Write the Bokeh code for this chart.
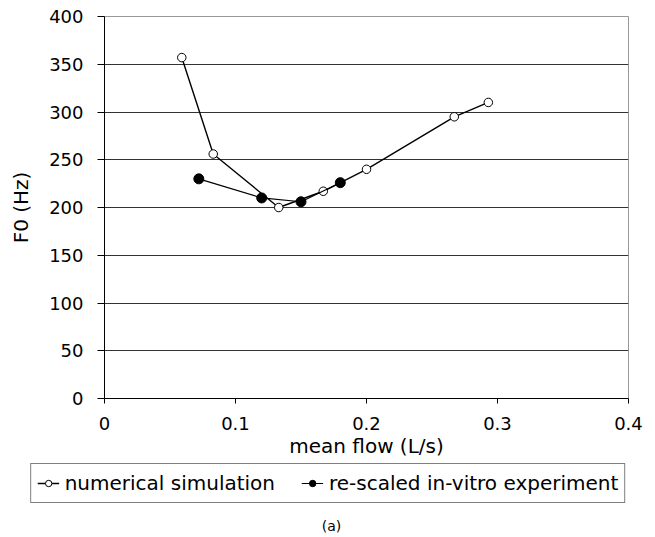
from bokeh.plotting import figure
from bokeh.layouts import column
from bokeh.models import (Range1d, FixedTicker, Legend, LegendItem, Label)
from bokeh.embed import file_html
from bokeh.resources import INLINE

# ---- data ----
sim_x = [0.059, 0.083, 0.133, 0.167, 0.200, 0.267, 0.293]
sim_y = [357, 256, 200, 217, 240, 295, 310]
exp_x = [0.072, 0.120, 0.150, 0.180]
exp_y = [230, 210, 206, 226]

x_ticks = [0, 0.1, 0.2, 0.3, 0.4]
x_tick_labels = ["0", "0.1", "0.2", "0.3", "0.4"]
y_ticks = [0, 50, 100, 150, 200, 250, 300, 350, 400]
y_tick_labels = ["0", "50", "100", "150", "200", "250", "300", "350", "400"]

sim_label = "numerical simulation"
exp_label = "re-scaled in-vitro experiment"
x_title = "mean flow (L/s)"
y_title = "F0 (Hz)"
caption = "(a)"

FONT = "DejaVu Sans"
W = 655

p = figure(width=W, height=460, output_backend="svg", toolbar_location=None,
           x_range=Range1d(0, 0.4), y_range=Range1d(0, 400),
           min_border_left=104, min_border_right=27, min_border_top=16,
           min_border_bottom=60, background_fill_color="white",
           border_fill_color="white")

p.outline_line_color = "#999999"
p.outline_line_width = 1

p.xgrid.visible = False
p.ygrid.ticker = FixedTicker(ticks=y_ticks)
p.ygrid.grid_line_color = "#333333"
p.ygrid.grid_line_width = 1

p.xaxis.ticker = FixedTicker(ticks=x_ticks)
p.yaxis.ticker = FixedTicker(ticks=y_ticks)
p.xaxis.major_label_overrides = {t: s for t, s in zip(x_ticks, x_tick_labels)}
p.yaxis.major_label_overrides = {t: s for t, s in zip(y_ticks, y_tick_labels)}

for ax in (p.xaxis[0], p.yaxis[0]):
    ax.axis_line_color = "black"
    ax.axis_line_width = 1
    ax.major_tick_line_color = "black"
    ax.major_tick_in = 0
    ax.minor_tick_line_color = None
    ax.major_label_text_font = FONT
    ax.major_label_text_font_size = "18px"
    ax.major_label_text_color = "black"
    ax.axis_label_text_font = FONT
    ax.axis_label_text_font_style = "normal"
    ax.axis_label_text_font_size = "20px"
    ax.axis_label_text_color = "black"

p.xaxis.major_tick_out = 5
p.xaxis.major_label_standoff = 13
p.xaxis.axis_label = x_title
p.xaxis.axis_label_standoff = 1

p.yaxis.major_tick_out = 7
p.yaxis.major_label_standoff = 14
p.yaxis.axis_label = y_title
p.yaxis.axis_label_standoff = 13

p.line(sim_x, sim_y, line_color="black", line_width=1.4)
p.scatter(sim_x, sim_y, marker="circle", size=8.5, fill_color="white",
          line_color="black", line_width=1)
p.line(exp_x, exp_y, line_color="black", line_width=1.2)
p.scatter(exp_x, exp_y, marker="circle", size=10, fill_color="black",
          line_color="black")

# ---- lower strip: legend and caption ----
H2 = 77
p2 = figure(width=W, height=H2, output_backend="svg", toolbar_location=None,
            x_range=Range1d(0, W), y_range=Range1d(0, H2),
            x_axis_type=None, y_axis_type=None,
            min_border_left=0, min_border_right=0, min_border_top=0,
            min_border_bottom=0, background_fill_color="white",
            border_fill_color="white")
p2.outline_line_color = None
p2.grid.visible = False
for fig in (p, p2):
    if "frame_align" in fig.properties():
        fig.frame_align = False

# legend keys: same series, drawn through p2's scales (outside its view)
d1 = p2.line(sim_x, sim_y, line_color="black", line_width=1.4)
e1 = p2.scatter(sim_x, sim_y, marker="circle", size=8.5, fill_color="white",
                line_color="black", line_width=1)
d2 = p2.line(exp_x, exp_y, line_color="black", line_width=1.2)
e2 = p2.scatter(exp_x, exp_y, marker="circle", size=8, fill_color="black",
                line_color="black")

legend = Legend(items=[LegendItem(label=sim_label, renderers=[d1, e1]),
                       LegendItem(label=exp_label, renderers=[d2, e2])],
                orientation="horizontal", location="top_center",
                label_text_font=FONT, label_text_font_size="20px",
                label_text_color="black", label_height=26,
                border_line_color="black", border_line_width=1,
                background_fill_color="white", background_fill_alpha=1,
                padding=6, spacing=26, glyph_width=22, glyph_height=16,
                label_standoff=6, margin=3)
p2.add_layout(legend, "center")

cap = Label(x=331, y=12, text=caption, text_align="center",
            text_baseline="middle", text_font=FONT, text_font_size="14px",
            text_color="black")
p2.add_layout(cap)

layout = column(p, p2, spacing=0)
open("out.html", "w").write(file_html(layout, INLINE))
